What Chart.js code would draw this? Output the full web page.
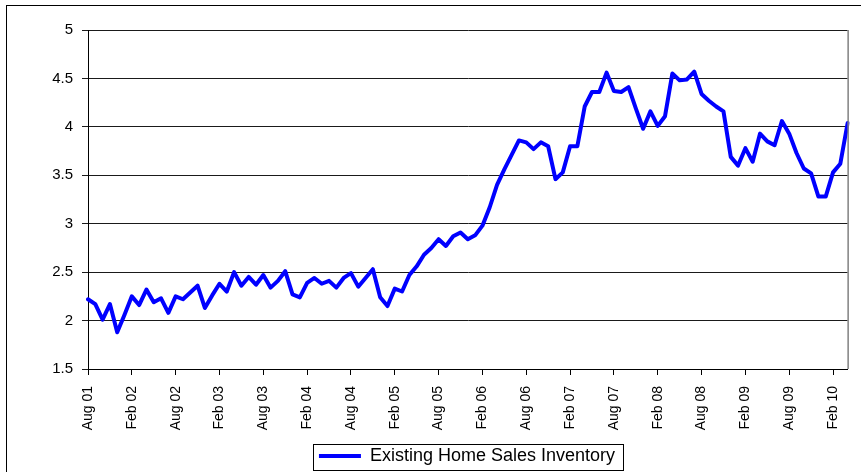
<!DOCTYPE html>
<html>
<head>
<meta charset="utf-8">
<script src="https://cdn.jsdelivr.net/npm/chart.js@4.4.1/dist/chart.umd.min.js"></script>
<style>
  html, body { margin: 0; padding: 0; background: #ffffff; }
  #wrap { width: 861px; height: 472px; }
</style>
</head>
<body>
<div id="wrap"><canvas id="c" width="861" height="472"></canvas></div>
<script>
// Monthly categories: Aug 01 .. Apr 10
const monthNames = ["Jan","Feb","Mar","Apr","May","Jun","Jul","Aug","Sep","Oct","Nov","Dec"];
const startMonth = 7;   // Aug
const startYear = 2001;
const pointCount = 105;
const categories = [];
for (let i = 0; i < pointCount; i++) {
  const m = (startMonth + i) % 12;
  const y = startYear + Math.floor((startMonth + i) / 12);
  categories.push(monthNames[m] + " " + String(y % 100).padStart(2, "0"));
}

const seriesName = "Existing Home Sales Inventory";
const inventory = [
  2.22, 2.17, 2.01, 2.17, 1.88, 2.06, 2.25, 2.16, 2.32, 2.19,
  2.23, 2.08, 2.25, 2.22, 2.29, 2.36, 2.13, 2.26, 2.38, 2.30,
  2.50, 2.36, 2.45, 2.37, 2.47, 2.34, 2.41, 2.51, 2.27, 2.24,
  2.39, 2.44, 2.38, 2.41, 2.34, 2.44, 2.49, 2.35, 2.44, 2.53,
  2.24, 2.15, 2.33, 2.30, 2.47, 2.56, 2.68, 2.75, 2.84, 2.77,
  2.87, 2.91, 2.84, 2.88, 2.98, 3.17, 3.40, 3.56, 3.71, 3.86,
  3.84, 3.77, 3.84, 3.80, 3.46, 3.53, 3.80, 3.80, 4.21, 4.36,
  4.36, 4.56, 4.37, 4.36, 4.41, 4.19, 3.98, 4.16, 4.01, 4.11,
  4.55, 4.48, 4.49, 4.57, 4.34, 4.27, 4.21, 4.16, 3.69, 3.60,
  3.78, 3.64, 3.93, 3.85, 3.81, 4.06, 3.93, 3.73, 3.57, 3.52,
  3.28, 3.28, 3.53, 3.62, 4.04
];

const yMin = 1.5, yMax = 5, yStep = 0.5;
const labelEvery = 6;

const FONT = "Arial, 'Liberation Sans', sans-serif";
const LEGEND_SHIFT = 41;

const framePlugin = {
  id: 'frame',
  afterUpdate(chart) {
    const lg = chart.legend;
    if (lg) {
      lg.left += LEGEND_SHIFT;
      lg.right += LEGEND_SHIFT;
      (lg.legendHitBoxes || []).forEach(h => { h.left += LEGEND_SHIFT; });
    }
  },
  beforeDraw(chart) {
    const ctx = chart.ctx;
    ctx.save();
    ctx.fillStyle = '#ffffff';
    ctx.fillRect(0, 0, chart.width, chart.height);
    ctx.strokeStyle = '#000000';
    ctx.lineWidth = 1;
    ctx.strokeRect(6.5, 5.5, 1000, 1000);
    ctx.restore();
  },
  afterDraw(chart) {
    const ctx = chart.ctx;
    const a = chart.chartArea;
    ctx.save();
    // right plot border (grey)
    ctx.strokeStyle = '#808080';
    ctx.lineWidth = 1.5;
    ctx.beginPath();
    ctx.moveTo(a.right + 0.5, a.top);
    ctx.lineTo(a.right + 0.5, a.bottom);
    ctx.stroke();
    // legend box
    const hb = chart.legend && chart.legend.legendHitBoxes && chart.legend.legendHitBoxes[0];
    if (hb) {
      const cy = hb.top + hb.height / 2;
      ctx.strokeStyle = '#000000';
      ctx.lineWidth = 1;
      ctx.strokeRect(Math.round(hb.left - 6) + 0.5, Math.round(cy - 12) + 0.5,
                     Math.round(hb.width + 14), 26);
    }
    ctx.restore();
  }
};

new Chart(document.getElementById('c'), {
  type: 'line',
  data: {
    labels: categories,
    datasets: [{
      label: seriesName,
      data: inventory,
      borderColor: '#0000ff',
      backgroundColor: '#0000ff',
      borderWidth: 4,
      pointRadius: 0,
      pointHoverRadius: 0,
      tension: 0,
      borderJoinStyle: 'round',
      borderCapStyle: 'round',
      fill: false
    }]
  },
  options: {
    responsive: false,
    animation: false,
    events: [],
    layout: { padding: { top: 30, right: 9, left: 0, bottom: -3 } },
    scales: {
      x: {
        type: 'category',
        offset: false,
        border: { display: true, color: '#000000', width: 1 },
        grid: {
          display: true,
          drawOnChartArea: false,
          drawTicks: true,
          tickLength: 6,
          color: '#000000'
        },
        ticks: {
          autoSkip: false,
          minRotation: 90,
          maxRotation: 90,
          padding: 11,
          color: '#000000',
          font: { family: FONT, size: 14 },
          callback: function(value, index) {
            return index % labelEvery === 0 ? categories[index] : null;
          }
        },
        afterFit(scale) { scale.height = 68; }
      },
      y: {
        min: yMin,
        max: yMax,
        border: { display: true, color: '#000000', width: 1 },
        grid: {
          color: '#1a1a1a',
          lineWidth: 1,
          drawTicks: true,
          tickLength: 6
        },
        ticks: {
          stepSize: yStep,
          padding: 9,
          color: '#000000',
          font: { family: FONT, size: 15 },
          callback: function(value) { return String(value); }
        },
        afterFit(scale) { scale.width = 88; }
      }
    },
    plugins: {
      legend: {
        display: true,
        position: 'bottom',
        labels: {
          color: '#000000',
          font: { family: FONT, size: 18 },
          boxWidth: 42,
          boxHeight: 4,
          padding: 10,
          generateLabels(chart) {
            return [{
              text: seriesName,
              fillStyle: '#0000ff',
              strokeStyle: '#0000ff',
              lineWidth: 0,
              hidden: false,
              datasetIndex: 0
            }];
          }
        }
      },
      tooltip: { enabled: false },
      title: { display: false }
    }
  },
  plugins: [framePlugin]
});
</script>
</body>
</html>
